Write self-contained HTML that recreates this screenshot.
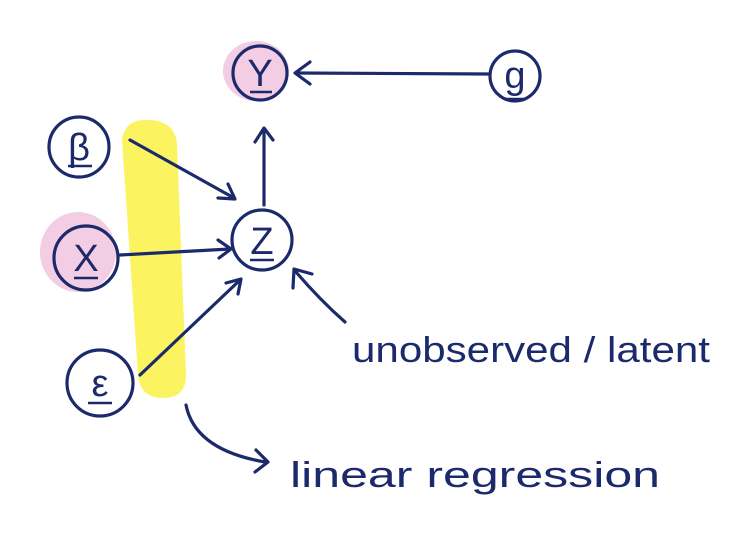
<!DOCTYPE html>
<html><head><meta charset="utf-8"><style>
html,body{margin:0;padding:0;background:#fff;}
svg{display:block;}
text{font-family:"Liberation Sans",sans-serif;fill:#1c2a6b;}
</style></head><body>
<svg width="744" height="549" viewBox="0 0 744 549" xmlns="http://www.w3.org/2000/svg">
<g>
<path d="M122,140 Q125,118 150,120 Q176,122 177,145 L186,375 Q186,398 163,398 Q140,398 138,375 Z" fill="#fbf35f"/>
<ellipse cx="256" cy="71" rx="33" ry="30" fill="#f2cde3"/>
<ellipse cx="78" cy="252" rx="38" ry="40" fill="#f2cde3"/>
</g>
<g fill="none" stroke="#1c2a6b" stroke-width="3.2" stroke-linecap="round" stroke-linejoin="round">
<circle cx="260" cy="73" r="27"/>
<circle cx="515" cy="76" r="25"/>
<circle cx="79" cy="147" r="30"/>
<circle cx="86" cy="258" r="32"/>
<circle cx="100" cy="383" r="33"/>
<circle cx="262" cy="240" r="30"/>
<path d="M489,74 L296,73"/>
<path d="M310,62 L295,73 L310,84"/>
<path d="M264,205 L264,130"/>
<path d="M255,142 L264,128 L273,140"/>
<path d="M130,140 L234,198"/>
<path d="M218,198 L235,199 L228,184"/>
<path d="M120,255 L230,249"/>
<path d="M218,240 L231,249 L219,258"/>
<path d="M140,375 L240,280"/>
<path d="M226,283 L241,279 L238,294"/>
<path d="M345,322 Q320,300 296,272"/>
<path d="M293,288 L294,269 L312,274"/>
<path d="M186,405 Q195,450 265,462"/>
<path d="M256,450 L268,462 L255,472"/>
</g>
<g font-size="38" text-anchor="middle">
<text x="260" y="86">Y</text>
<text x="515" y="88">g</text>
<text x="79" y="160">β</text>
<text x="86" y="271">X</text>
<text x="100" y="396">ε</text>
<text x="262" y="254">Z</text>
</g>
<g stroke="#1c2a6b" stroke-width="2.5">
<line x1="250" y1="92" x2="272" y2="92"/>
<line x1="504" y1="99" x2="526" y2="99"/>
<line x1="68" y1="166" x2="92" y2="166"/>
<line x1="74" y1="278" x2="98" y2="278"/>
<line x1="88" y1="403" x2="112" y2="403"/>
<line x1="250" y1="260" x2="274" y2="260"/>
</g>
<text x="352" y="362" font-size="36" textLength="358" lengthAdjust="spacingAndGlyphs">unobserved / latent</text>
<text x="290" y="487" font-size="36" textLength="370" lengthAdjust="spacingAndGlyphs">linear regression</text>
</svg>
</body></html>
